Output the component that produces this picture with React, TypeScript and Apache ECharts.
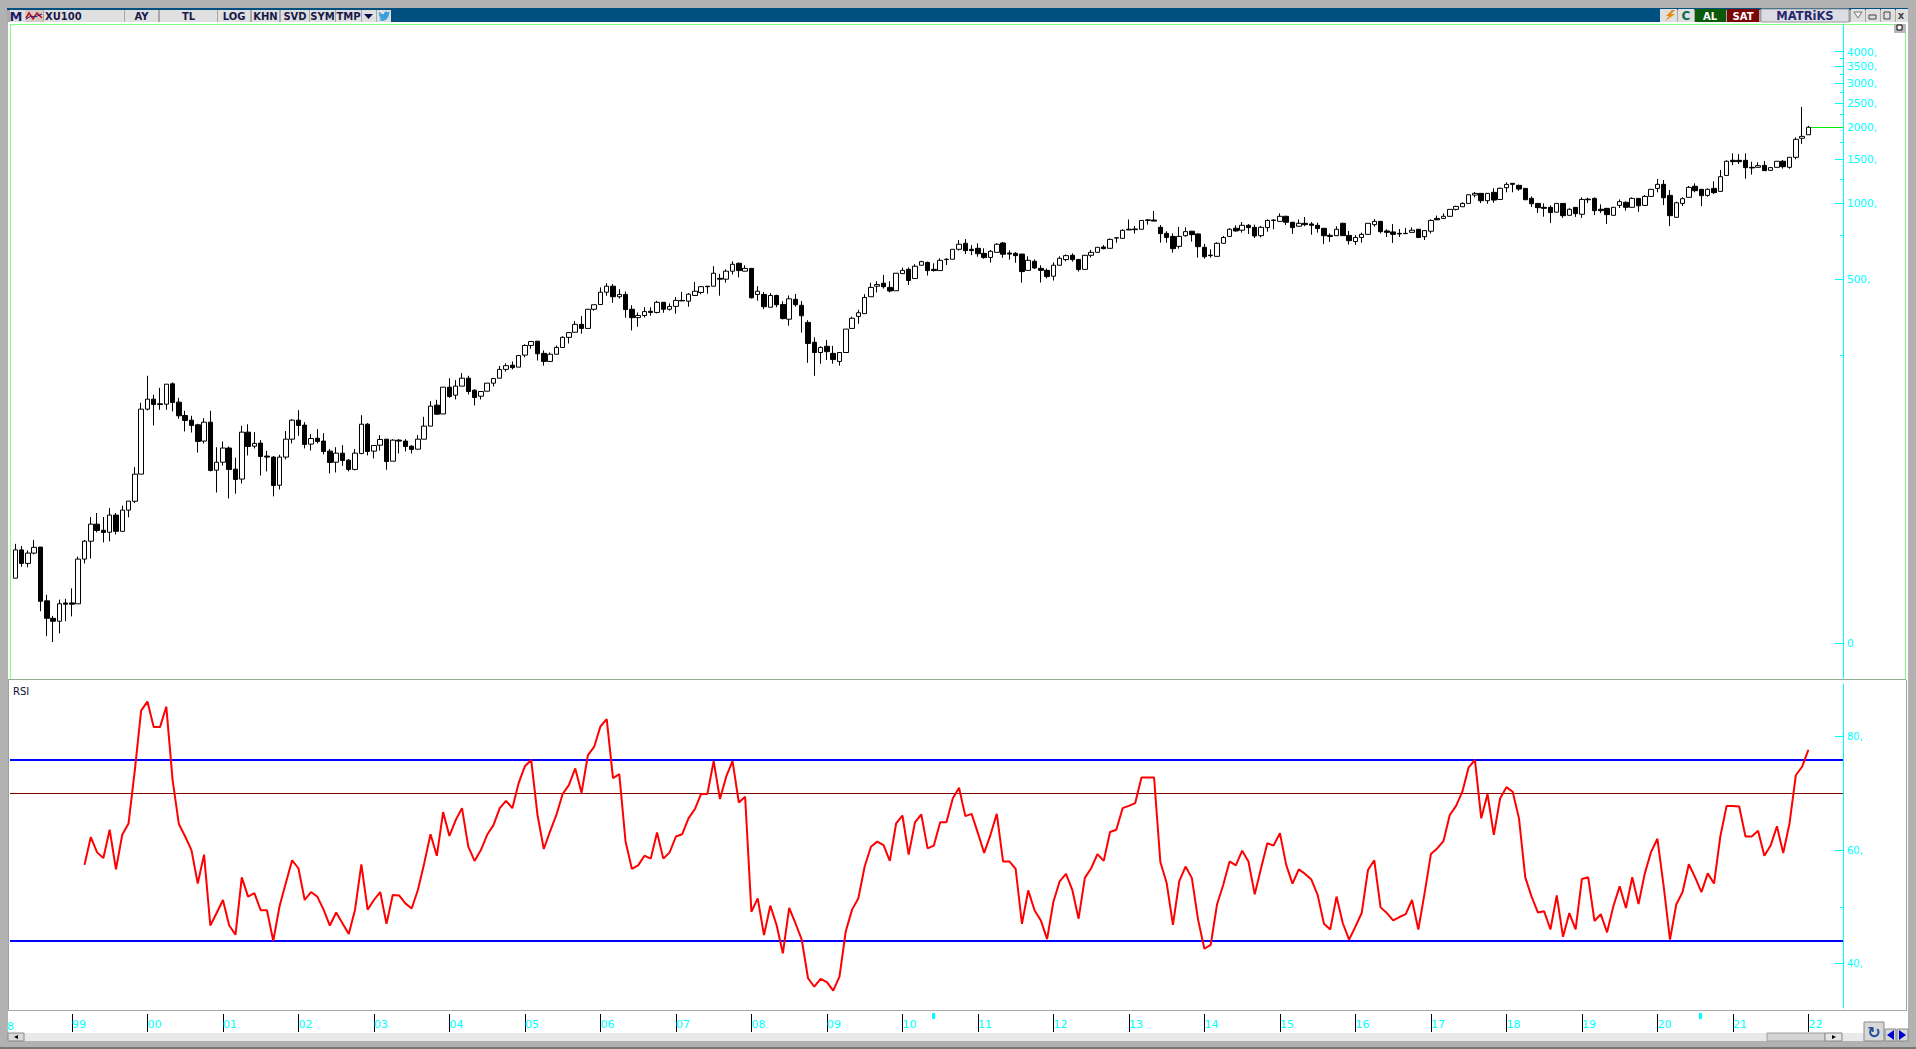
import React, { useEffect, useRef } from "react";
import * as echarts from "echarts";

// [open, close, low, high] monthly XU100, April 1998 onward
const candles1998to2004 = [
[32.6,42.2,32.6,44.6],[42.2,37.3,36.2,43.7],[37.3,41,36,42],[41,43.2,40.5,46.2],[43.3,26.4,24.1,43.3],[26.5,22.6,19.2,28],[22.6,22,18.2,23.1],[22,25.8,19.7,26.8],[26,25.7,22,27],[26,25.7,23,29.7],
[25.8,38.8,25.8,39.7],[38.8,45.7,37.3,46.2],[45.7,53.4,39,57],[53.4,50.4,49.5,59.1],[50.5,49.5,45.2,57],[49.6,58,45.6,61.8],[58,50,48.6,59.1],[50,60.7,50,63.2],[60.7,65.9,56.8,65.9],[65.8,84.3,64.7,89.9],
[84.3,152.6,84.3,161.7],[152.6,167.2,150.8,207],[167.2,159.3,131.5,174],[160.2,159.3,151.7,185.4],[159.7,191.7,151.7,191.7],[192.3,162.2,149.4,195],[162.7,143.6,139.8,169.2],[144,137.6,124.5,150.3],[138,131.5,123.3,143.6],[132.3,113.6,102.7,133.5],
[114,135.5,111.6,140.5],[135.5,87.2,86.4,150.3],[87.4,94,71.3,107.8],[94,107,91.2,113.6],[107,88,67.5,108.5],[88.2,80.3,70.5,97.9],[80.6,123.7,77.4,131],[123.7,108.5,100,133],[108.8,111.6,106.6,123.7],[111.9,99.1,83.2,115],
[99.4,98.5,86.4,104.3],[98.5,76,68.8,99.4],[76.2,98.5,73.3,100.6],[98.5,116,96.4,125],[116,138,111.6,139.2],[138,131.5,119.6,151.2],[131.9,110.6,106.6,135.5],[110.9,116.7,104.6,121.5],[117,113.6,111.6,127.2],[114,103.7,101,122.6],
[104,93.8,84.8,106],[94,102.1,85.6,107.8],[102.1,95.5,90.9,109.8],[95.8,88,86.4,96.7],[88,102.1,87.2,106],[101.8,133,101,144.4],[133,103.7,100,134.3],[104,109.5,97.3,109.8],[109.8,115.7,104.6,120.4],[116,94.6,87.7,116],
[94.9,115,94.9,116],[115,114,101.8,116],[114,108.5,103.7,116],[108.8,105.6,101.8,109.8],[105.9,116,105.9,120.4],[116,130.7,116,142.3],[130.7,156.9,130.7,164.2],[158.3,145.7,145.7,166.2],[146.1,186.5,146.1,186.5],[186.5,171.3,169.2,202.5],
[173.4,188.3,166.7,198.9],[188.3,202.5,188.3,212],[202.5,179.3,174.5,207],[181.4,169.7,157.8,183],[171.8,179.3,166.7,179.8],[179.8,193.5,179.8,193.5],[193.5,201.9,187.7,202.5],[202.5,219.4,202.5,226.4],
];
const candles2004to2011 = [
[219.5,227,215,232],[228,223,219.5,236],[224,249,224,250],[250,273,245,276],[273,283,265,283],[284,253,238,284],[254,236,227,261],[236,252,236,256],[252,268,252,273],[268,294,267,297],
[294,307,278,308],[308,331,308,341],[331,319,304,357],[319,380,319,380],[380,396,375,396],[397,444,397,464],[444,469,430,482],[469,426,403,478],[426,435,419,456],[435,379,352,447],
[380,352,313,394],[352,359,324,369],[359,372,352,387],[373,369,358,387],[369,405,366,410],[405,380,368,406],[380,390,375,401],[390,412,365,425],[412,410,410,445],[409,436,389,440],
[431,448,431,488],[443,467,436,469],[469,467,438,469],[469,528,469,563],[504,500,430,525],[500,538,485,547],[538,573,522,589],[578,541,508,582],[538,552,538,568],[552,422,419,552],
[435,448,411,469],[435,389,380,445],[387,431,387,440],[431,396,387,434],[397,349,346,409],[347,418,327,431],[416,396,389,437],[394,358,307,410],[337,278,233,344],[281,256,207,294],
[256,268,231,271],[271,258,239,287],[254,240,231,272],[236,256,227,256],[256,317,256,317],[319,350,319,355],[356,368,333,378],[365,423,365,436],[426,464,426,484],[469,476,443,491],
[482,467,459,520],[464,449,443,491],[450,528,450,528],[526,542,526,556],[547,494,474,556],[503,563,503,573],[568,587,568,592],[583,541,517,587],[547,541,536,578],[541,594,541,605],
[598,600,569,605],[600,657,600,657],[657,688,649,715],[694,649,629,721],[657,649,623,683],[663,631,614,694],[633,609,603,663],[610,645,582,653],[639,688,639,694],
];
const candles2011to2018 = [
[696,628,608,702],[635,629,598,651],[633,620,581,641],[629,536,485,629],[542,594,542,616],[589,554,549,599],[552,542,485,568],[542,512,504,551],[514,568,494,583],[568,605,568,616],
[598,620,589,627],[622,598,587,633],[599,546,536,601],[547,622,547,624],[622,639,610,653],[639,669,639,669],[671,661,657,683],[663,719,663,726],[728,730,698,732],[726,781,726,789],
[789,784,784,863],[791,786,758,813],[789,855,789,858],[855,860,823,866],[858,850,850,932],[803,758,698,820],[760,732,698,775],[739,661,637,760],[675,739,661,806],[744,772,737,803],
[775,751,705,777],[756,673,609,760],[669,614,603,690],[623,620,609,657],[616,694,616,700],[694,732,694,742],[739,789,739,796],[796,777,772,818],[782,818,765,843],[818,801,756,828],
[803,742,728,823],[744,803,732,813],[801,855,772,863],[855,858,789,863],[848,888,848,912],[888,841,820,893],[841,801,756,843],[811,833,811,863],[833,823,811,882],[828,818,751,843],
[818,794,765,838],[796,744,690,796],[746,739,703,760],[744,789,744,811],[833,744,744,838],[746,711,686,777],[705,732,684,749],[732,753,698,765],[753,833,753,833],[823,848,808,866],
[848,772,760,848],[777,767,735,789],[770,753,696,828],[760,756,735,791],[760,758,756,799],[767,782,765,803],[789,732,728,791],[737,779,715,784],[775,855,760,863],[871,860,858,894],
[871,888,866,912],[888,946,885,946],[946,972,937,978],[969,999,969,1009],[999,1081,999,1085],[1078,1095,1056,1109],[1095,1024,1002,1098],[1024,1095,996,1098],[1105,1030,1005,1147],[1036,1147,1036,1154],
];
const candles2018to2022 = [
[1153,1189,1106,1211],[1200,1189,1106,1200],[1178,1139,1122,1186],[1146,1033,1030,1146],[1046,996,967,1065],[999,961,916,999],[964,955,885,999],[964,919,835,981],[922,999,922,999],[999,893,875,999],
[896,947,896,955],[964,910,883,964],[905,1036,875,1056],[1039,1033,1002,1052],[1046,935,898,1056],[947,935,916,990],[955,902,828,955],[896,964,896,964],[981,1015,958,1036],[1009,964,935,1018],
[964,1046,964,1056],[1046,978,925,1046],[981,1065,981,1078],[1065,1136,1065,1139],[1146,1189,1106,1248],[1189,1052,984,1237],[1075,893,812,1129],[880,1005,880,1015],[999,1043,975,1056],[1056,1157,1056,1171],
[1168,1122,1106,1200],[1136,1072,975,1136],[1075,1136,1062,1146],[1146,1102,1088,1222],[1115,1275,1115,1355],[1290,1468,1290,1481],[1481,1463,1418,1578],[1481,1463,1431,1568],[1481,1385,1252,1578],[1389,1381,1300,1463],
[1389,1410,1389,1454],[1414,1347,1343,1472],[1351,1385,1351,1389],[1389,1468,1389,1468],[1468,1397,1372,1485],[1389,1522,1372,1522],[1522,1793,1495,1827],[1811,1843,1720,2410],[1870,2002,1870,2028],
];
const rsiBlank = 11;
const rsi1999to2006 = [57.4,62.3,59.6,58.6,63.6,56.6,62.7,64.7,74.1,84.6,86.2,81.7,81.7,85.3,72.4,64.6,62.4,60,54.1,59.2,46.7,48.9,51.2,46.7,45.1,55.2,51.8,52.4,49.4,49.4,44,50.1,54.2,58.2,56.8,51.2,52.6,51.8,49.5,46.7,49,47.1,45.2,49.5,57.5,49.5,51.2,52.6,47,52.1,52,50.6,49.7,53,57.7,62.8,59,66.7,62.5,65.3,67.4,60.6,58.1,60,62.7,64.4,67.4,68.7,67.4,71.8,74.8,75.9,66.2,60.2,63.3,66.2,69.9,71.5,74.4,70.1,76.7,78.2,81.8,83.1,72.7,73.4,61.5,56.7,57.3];
const rsi2006to2015 = [59,58.5,63.1,58.5,59.6,62.4,62.8,65.6,67.2,69.9,69.9,75.7,69,73,75.7,68.4,69.4,49.1,51.5,45,50.2,46.8,41.8,49.8,47.1,44.2,37.4,35.9,37.3,36.7,35.2,37.7,45.7,49.5,51.5,57.1,60.6,61.5,60.9,58.1,64.7,66.1,59.2,64.9,66.3,60.3,60.8,64.9,64.9,69.1,71,66,66.4,63,59.5,62.7,66.4,58,58,56.7,47,52.9,49.4,47.6,44.3,50.9,54.5,55.8,53,47.9,55.1,56.8,59.3,58.1,63.2,63.6,67.4,67.8,68.3,72.8,72.8,72.8,57.9,54.2,46.8,54.5,57.1,55.1,47.7,42.6,43.3,50.4,53.9,58,57.3,59.9,58,52.2,56.8,61.2,60.8,63];
const rsi2015to2022 = [57.4,54.1,56.6,55.8,54.8,52.1,47,46,51.8,47.1,44.2,46.5,48.9,56.5,58.2,49.9,48.9,47.6,48.2,48.7,51.2,46,52.4,59.3,60.3,61.6,66.2,67.8,70.3,74.6,75.9,65.6,69.9,62.7,69.1,71.1,70.3,65.6,55.2,51.8,49,49.2,46,52,44.7,48.9,46,54.9,55.2,47.5,48.7,45.5,50.1,53.6,49.8,55.2,50.5,55.9,59.7,62,53.6,44.2,50.4,52.6,57.5,55.2,52.6,55.9,54.1,62.4,67.8,67.8,67.7,62.4,62.4,63.4,59,60.8,64.2,59.5,64.7,73.2,74.7,77.7];

const priceMajorTicks = [4000, 3500, 3000, 2500, 2000, 1500, 1000, 500, 18];
const priceMinorTicks = [3750, 3250, 2750, 2250, 1750, 1250, 750, 250];
const rsiMajorTicks = [80, 60, 40];
const rsiMinorTicks = [70, 50];
const rsiUpperBand = 76;
const rsiMiddleBand = 70;
const rsiLowerBand = 44;
const toolbarButtons: [string, number, number][] = [
  ["AY", 125, 33], ["TL", 160, 57], ["LOG", 218, 32], ["KHN", 252, 27], ["SVD", 281, 28], ["SYM", 310, 25], ["TMP", 336, 25],
];

const categories: string[] = [];
for (let y = 1998, m = 4; categories.length < 291; m++) {
  if (m > 12) { m = 1; y++; }
  categories.push(`${y}-${String(m).padStart(2, "0")}`);
}
const isJanuary = (_i: number, v: string) => v.endsWith("-01");
const CYAN = "#00ffff";
const UI = "DejaVu Sans";
const GRAY = "#b2b2b2";
const BTN = "#e0e0e0";

echarts.graphic.registerShape(
  "bird",
  echarts.graphic.extendPath(
    "M23 4.9c-.8.4-1.7.6-2.6.8 1-.6 1.7-1.5 2-2.6-.9.5-1.9.9-3 1.1A4.6 4.6 0 0 0 11.6 8.4C7.8 8.2 4.4 6.4 2.1 3.6c-1.2 2.1-.6 4.8 1.4 6.1-.7 0-1.4-.2-2-.6 0 2.2 1.5 4.1 3.7 4.6-.7.2-1.4.2-2.1.1.6 1.9 2.3 3.2 4.3 3.2A9.3 9.3 0 0 1 1 18.9a13 13 0 0 0 7 2.1c8.5 0 13.3-7.2 13-13.6.9-.7 1.7-1.5 2-2.5z",
    {}
  )
);

const rect = (x: number, y: number, width: number, height: number, fill: string, stroke?: string, z = 50) => ({
  type: "rect", z, silent: true, shape: { x, y, width, height }, style: { fill, stroke: stroke ?? null, lineWidth: stroke ? 1 : 0 },
});
const label = (text: string, x: number, y: number, font: string, fill: string, align = "center") => ({
  type: "text", z: 60, silent: true, style: { text, x, y, font, fill, align, verticalAlign: "middle" },
});

function chrome() {
  const els: any[] = [
    // outer frame
    rect(0, 0, 1916, 8, GRAY), rect(0, 0, 8, 1049, GRAY), rect(1908, 0, 8, 1049, GRAY),
    rect(0, 1041, 1916, 8, GRAY), rect(0, 1047, 1916, 2, "#777777"),
    rect(7, 8, 1901, 2, "#00517f"),
    rect(7, 10, 1901, 12, "#a8a8a8"),
    // green panel border
    rect(10, 24, 1896, 1, "#80ff80"), rect(10, 24, 1, 655, "#80ff80"), rect(1905, 24, 1, 655, "#80ff80"),
    rect(8, 679, 1898, 1, "#8fae8f"),
    rect(8, 680, 1, 330, "#a0a0a0"), rect(1906, 680, 1, 330, "#a0a0a0"),
    rect(8, 1010, 1899, 1, "#a8a8a8"),
    // scroll bar
    rect(8, 1033, 1900, 8, "#e9e9e9"),
    rect(8, 1033, 16, 8, "#d8d8d8", "#888888"),
    rect(1767, 1033, 58, 8, "#d4d4d4", "#a0a0a0"),
    rect(1825, 1033, 17, 8, "#e4e4e4", "#888888"),
    rect(1864, 1022, 20, 19, "#d8d8d8", "#888888"),
    rect(1885, 1029, 11, 12, "#d8d8d8", "#888888"),
    rect(1897, 1029, 11, 12, "#d8d8d8", "#888888"),
    { type: "polygon", z: 60, silent: true, shape: { points: [[1887, 1035], [1894, 1030], [1894, 1040]] }, style: { fill: "#0000cc" } },
    { type: "polygon", z: 60, silent: true, shape: { points: [[1906, 1035], [1899, 1030], [1899, 1040]] }, style: { fill: "#0000cc" } },
    label("↻", 1874, 1032, `bold 16px ${UI}`, "#1f4e9c"),
    { type: "polygon", z: 60, silent: true, shape: { points: [[14, 1037], [18, 1035], [18, 1039]] }, style: { fill: "#000" } },
    { type: "polygon", z: 60, silent: true, shape: { points: [[1836, 1037], [1832, 1035], [1832, 1039]] }, style: { fill: "#000" } },
    // toolbar, left
    rect(10, 10, 33, 12, BTN),
    label("M", 16, 16, `bold 13px ${UI}`, "#1c1c66"),
    rect(25, 10, 18, 12, "#d8c8c8"),
    { type: "polyline", z: 60, silent: true, shape: { points: [[26, 18], [29, 13], [33, 19], [37, 13], [42, 18]] }, style: { stroke: "#c01010", fill: null, lineWidth: 1.5 } },
    { type: "polyline", z: 60, silent: true, shape: { points: [[26, 19], [31, 16], [35, 17], [42, 14]] }, style: { stroke: "#202080", fill: null, lineWidth: 1 } },
    rect(44, 10, 80, 12, BTN),
    label("XU100", 45, 16, `bold 10px ${UI}`, "#1a1a4a", "left"),
    ...toolbarButtons.flatMap(([t, x, w]) => [rect(x, 10, w, 12, BTN), label(t, x + w / 2, 16, `bold 10px ${UI}`, "#1a1a4a")]),
    rect(362, 10, 14, 12, BTN),
    { type: "polygon", z: 60, silent: true, shape: { points: [[364, 14], [373, 14], [368.5, 19]] }, style: { fill: "#0a0a50" } },
    rect(377, 10, 14, 12, BTN),
    { type: "bird", z: 60, silent: true, x: 378, y: 10, scaleX: 0.52, scaleY: 0.52, style: { fill: "#3aa0dc" } },
    rect(391, 10, 1269, 12, "#00517f"),
    // toolbar, right
    rect(1660, 9, 17, 13, BTN),
    { type: "polygon", z: 60, silent: true, shape: { points: [[1672, 10], [1666, 16], [1669, 16], [1665, 21], [1675, 14], [1671, 14], [1675, 10]] }, style: { fill: "#e08a10" } },
    rect(1678, 9, 16, 13, BTN),
    label("C", 1686, 16, `bold 12px ${UI}`, "#0a6a50"),
    rect(1695, 9, 31, 13, "#0a5a0a"),
    label("AL", 1710, 16, `bold 10px ${UI}`, "#ffffff"),
    rect(1727, 9, 32, 13, "#7a0606"),
    label("SAT", 1743, 16, `bold 10px ${UI}`, "#ffffff"),
    rect(1761, 9, 88, 13, "#dcdce4", "#999999"),
    label("MATRiKS", 1805, 16, `bold 11.5px ${UI}`, "#28286e"),
    rect(1851, 9, 14, 13, BTN), rect(1866, 9, 14, 13, BTN), rect(1881, 9, 14, 13, BTN), rect(1896, 9, 12, 13, BTN),
    { type: "polygon", z: 60, silent: true, shape: { points: [[1854, 12], [1862, 12], [1858, 18]] }, style: { fill: "#f4f4f4", stroke: "#777777", lineWidth: 1 } },
    rect(1869, 15, 7, 4, "#e0e0e0", "#444444"),
    rect(1884, 12, 6, 7, "#e0e0e0", "#444444"),
    label("x", 1901, 15, `bold 10px ${UI}`, "#444444"),
    rect(1894, 24, 12, 9, "#b8b8b8"), rect(1897, 25, 5, 5, "#ffffff", "#000000"),
    // texts on panels
    label("RSI", 13, 691, `10px ${UI}`, "#101030", "left"),
    label("8", 7, 1026, `11px ${UI}`, CYAN, "left"),
    rect(932, 1013, 3, 6, CYAN), rect(1699, 1013, 3, 6, CYAN),
  ];
  return els;
}

export default function App() {
  const ref = useRef<HTMLDivElement>(null);
  useEffect(() => {
    document.body.style.margin = "0";
    const chart = echarts.init(ref.current!, null, { renderer: "svg" });
    const candles = [...candles1998to2004, ...candles2004to2011, ...candles2011to2018, ...candles2018to2022];
    const rsi = [...Array(rsiBlank).fill(null), ...rsi1999to2006, ...rsi2006to2015, ...rsi2015to2022];
    const lastClose = candles[candles.length - 1][1];
    const yBase = { position: "right" as const, splitLine: { show: false } };
    const bandLine = (v: number) => [{ x: 10, yAxis: v }, { x: 1843, yAxis: v }];
    chart.setOption({
      animation: false,
      backgroundColor: "#ffffff",
      graphic: { elements: chrome() },
      grid: [
        { left: 12.15, right: 73, top: 24, height: 654 },
        { left: 12.15, right: 73, top: 684, height: 324 },
      ],
      xAxis: [
        { type: "category", gridIndex: 0, data: categories, show: false, boundaryGap: true },
        {
          type: "category", gridIndex: 1, data: categories, boundaryGap: true, offset: 6,
          axisLine: { show: false },
          axisTick: { show: true, alignWithLabel: true, interval: isJanuary, length: 18, lineStyle: { color: "#000000", width: 1 } },
          axisLabel: {
            interval: isJanuary, color: CYAN, fontFamily: UI, fontSize: 11, margin: 5, align: "left", padding: [0, 0, 0, 0],
            formatter: (v: string) => v.slice(2, 4),
          },
        },
      ],
      yAxis: [
        {
          ...yBase, type: "log", logBase: 2, gridIndex: 0, min: 13.1, max: 5142,
          axisLine: { show: true, lineStyle: { color: CYAN, width: 1 } },
          axisTick: { show: true, inside: true, length: 8, customValues: priceMajorTicks, lineStyle: { color: CYAN } },
          axisLabel: {
            show: true, inside: false, margin: 4, color: CYAN, fontFamily: UI, fontSize: 10.5, padding: [2, 0, 0, 0], customValues: priceMajorTicks,
            formatter: (v: number) => (v < 100 ? "0" : `${Math.round(v)},`),
          },
        },
        {
          ...yBase, type: "log", logBase: 2, gridIndex: 0, min: 13.1, max: 5142,
          axisLine: { show: false },
          axisTick: { show: true, inside: true, length: 3, customValues: priceMinorTicks, lineStyle: { color: CYAN } },
          axisLabel: { show: false },
        },
        {
          ...yBase, type: "value", gridIndex: 1, min: 32.15, max: 89.3,
          axisLine: { show: true, lineStyle: { color: CYAN, width: 1 } },
          axisTick: { show: true, inside: true, length: 8, customValues: rsiMajorTicks, lineStyle: { color: CYAN } },
          axisLabel: {
            show: true, margin: 4, color: CYAN, fontFamily: UI, fontSize: 10, customValues: rsiMajorTicks,
            formatter: (v: number) => `${v},`,
          },
        },
        {
          ...yBase, type: "value", gridIndex: 1, min: 32.15, max: 89.3,
          axisLine: { show: false },
          axisTick: { show: true, inside: true, length: 3, customValues: rsiMinorTicks, lineStyle: { color: CYAN } },
          axisLabel: { show: false },
        },
      ],
      series: [
        {
          type: "candlestick", name: "XU100", xAxisIndex: 0, yAxisIndex: 0, barWidth: 5, data: candles,
          itemStyle: { color: "#ffffff", color0: "#000000", borderColor: "#000000", borderColor0: "#000000", borderWidth: 1 },
          markLine: {
            silent: true, symbol: "none", label: { show: false }, animation: false,
            lineStyle: { color: "#00ee00", width: 1, type: "solid" },
            data: [[{ x: 1811, yAxis: lastClose, xAxis: categories[285] }, { x: 1843, yAxis: lastClose, xAxis: categories[285] }]],
          },
        },
        {
          type: "line", name: "RSI", xAxisIndex: 1, yAxisIndex: 2, data: rsi, showSymbol: false, connectNulls: false, z: 5,
          lineStyle: { color: "#ff0000", width: 2 },
          markLine: {
            silent: true, symbol: "none", label: { show: false }, animation: false, z: 4,
            data: [
              bandLine(rsiUpperBand).map((p) => ({ ...p, lineStyle: { color: "#0000ff", width: 2, type: "solid" } })),
              bandLine(rsiMiddleBand).map((p) => ({ ...p, lineStyle: { color: "#800000", width: 1, type: "solid" } })),
              bandLine(rsiLowerBand).map((p) => ({ ...p, lineStyle: { color: "#0000ff", width: 2, type: "solid" } })),
            ],
          },
        },
      ],
    });
    return () => chart.dispose();
  }, []);
  return <div ref={ref} style={{ position: "absolute", left: 0, top: 0, width: 1916, height: 1049, overflow: "hidden" }} />;
}
